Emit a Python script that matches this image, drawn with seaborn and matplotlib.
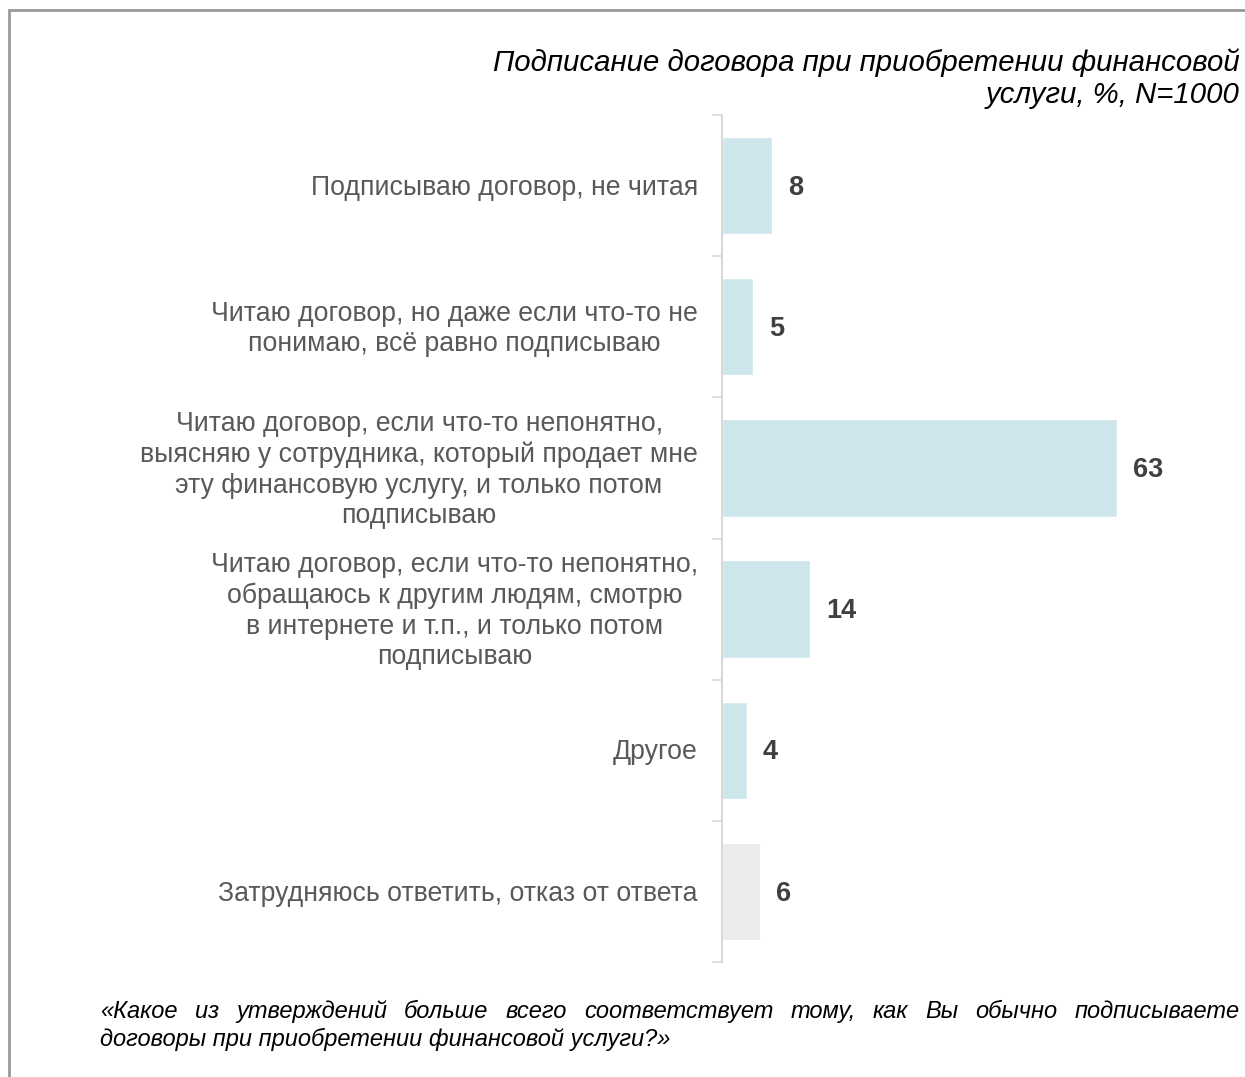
import seaborn as sns
import matplotlib.pyplot as plt
import pandas as pd

# Data
categories = [
    "Подписываю договор, не читая",
    "Читаю договор, но даже если что-то не\nпонимаю, всё равно подписываю",
    "Читаю договор, если что-то непонятно,\nвыясняю у сотрудника, который продает мне\nэту финансовую услугу, и только потом\nподписываю",
    "Читаю договор, если что-то непонятно,\nобращаюсь к другим людям, смотрю\nв интернете и т.п., и только потом\nподписываю",
    "Другое",
    "Затрудняюсь ответить, отказ от ответа",
]
values = [8, 5, 63, 14, 4, 6]
bar_colors = ["#CDE6EC", "#CDE6EC", "#CDE6EC", "#CDE6EC", "#CDE6EC", "#EBEBEB"]

title = "Подписание договора при приобретении финансовой\nуслуги, %, N=1000"
question_line1 = "«Какое из утверждений больше всего соответствует тому, как Вы обычно подписываете"
question_line2 = "договоры при приобретении финансовой услуги?»"

sns.set_style("white")
plt.rcParams["font.family"] = ["Liberation Sans", "DejaVu Sans"]

df = pd.DataFrame({"cat": categories, "val": values})

W, H = 1245, 1077
fig = plt.figure(figsize=(W / 100, H / 100), dpi=100)
ax = fig.add_axes([722 / W, 1 - 962 / H, (1240 - 722) / W, (962 - 115) / H])

px_per_unit = 395 / 63
sns.barplot(data=df, y="cat", x="val", hue="cat", palette=bar_colors,
            legend=False, width=0.69, saturation=1, ax=ax, orient="h")

ax.set_xlim(0, (1240 - 722) / px_per_unit)
ax.set_ylim(5.5, -0.5)
ax.set_xlabel("")
ax.set_ylabel("")
ax.set_xticks([])

# category boundaries as ticks
ax.set_yticks([i - 0.5 for i in range(len(categories) + 1)])
ax.set_yticklabels([])
ax.tick_params(axis="y", which="major", length=7, width=1.2, color="#D9D9D9", left=True)
for i, c in enumerate(categories):
    ax.text(-24 / px_per_unit, i + 0.015, c, ha="right", va="center", multialignment="center",
            fontsize=19.2, color="#595959", linespacing=1.22)

for s in ["top", "right", "bottom"]:
    ax.spines[s].set_visible(False)
ax.spines["left"].set_color("#D9D9D9")
ax.spines["left"].set_linewidth(1.5)

for i, v in enumerate(values):
    ax.text(v + 16 / px_per_unit, i + 0.015, str(v), ha="left", va="center", fontsize=19.5,
            fontweight="bold", color="#404040")

fig.text(1240 / W, 1 - 48 / H, title, ha="right", va="top", fontsize=21.2,
         style="italic", color="#000000", linespacing=1.2)

# footer question, first line justified between x=100 and x=1240
qsize = 17.0
x0, x1 = 100, 1240
y1 = 1 - 1018 / H
y2 = 1 - 1046 / H
words = question_line1.split(" ")
renderer = fig.canvas.get_renderer()
word_texts = [fig.text(0, y1, w_, ha="left", va="baseline", fontsize=qsize,
                       style="italic", color="#000000") for w_ in words]
widths = [t.get_window_extent(renderer).width for t in word_texts]
gap = (x1 - x0 - sum(widths)) / (len(words) - 1)
xpos = x0
for t, wd in zip(word_texts, widths):
    t.set_x(xpos / W)
    xpos += wd + gap
fig.text(x0 / W, y2, question_line2, ha="left", va="baseline", fontsize=qsize,
         style="italic", color="#000000")

# frame lines (left and top)
fig.add_artist(plt.Line2D([9 / W, 9 / W], [0, 1 - 10 / H], color="#999999", lw=2))
fig.add_artist(plt.Line2D([9 / W, 1], [1 - 10 / H, 1 - 10 / H], color="#999999", lw=2))

fig.savefig("out.png", dpi=100)
